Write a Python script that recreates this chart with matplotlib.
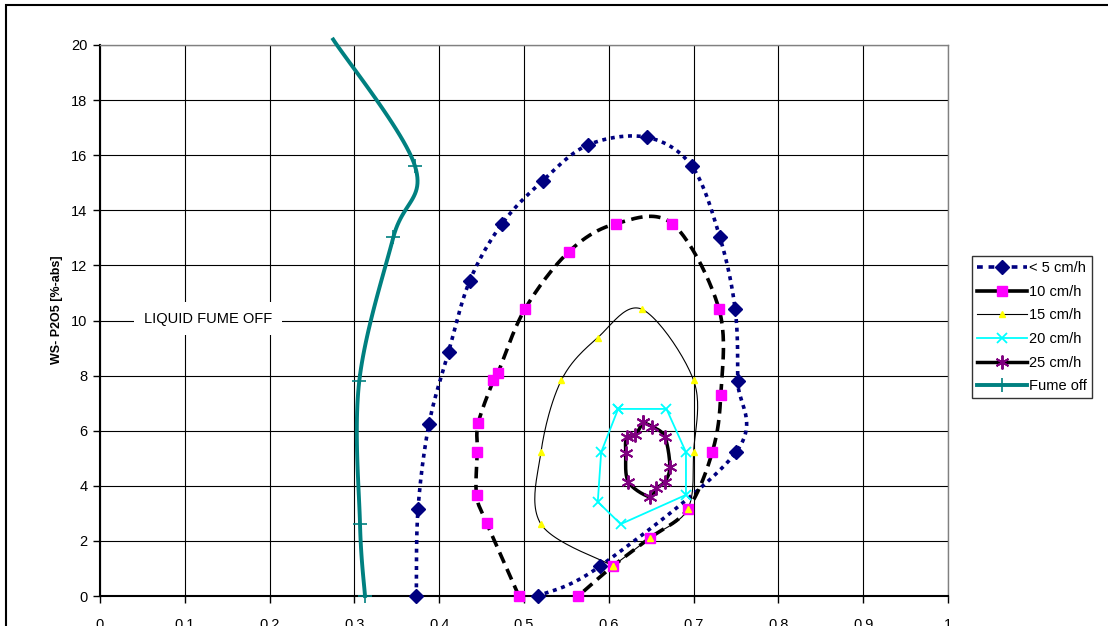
import numpy as np
import matplotlib
matplotlib.use("Agg")
import matplotlib.pyplot as plt
from matplotlib.lines import Line2D
from matplotlib.patches import Rectangle

plt.rcParams['font.family'] = ['Liberation Sans', 'DejaVu Sans']

# ---------------- data ----------------
x_lt5 = [0.373, 0.375, 0.388, 0.411, 0.436, 0.474, 0.522, 0.576, 0.645, 0.698,
         0.731, 0.749, 0.752, 0.750, 0.590, 0.516]
y_lt5 = [0.0, 3.15, 6.25, 8.86, 11.44, 13.51, 15.07, 16.38, 16.65, 15.60,
         13.02, 10.41, 7.81, 5.22, 1.09, 0.0]

x_10 = [0.494, 0.456, 0.444, 0.445, 0.446, 0.464, 0.469, 0.501, 0.553, 0.608,
        0.675, 0.730, 0.732, 0.722, 0.693, 0.649, 0.605, 0.564]
y_10 = [0.0, 2.64, 3.67, 5.22, 6.27, 7.83, 8.08, 10.41, 12.50, 13.51,
        13.51, 10.41, 7.30, 5.22, 3.15, 2.12, 1.09, 0.0]

x_15 = [0.605, 0.520, 0.520, 0.544, 0.587, 0.639, 0.700, 0.700, 0.693, 0.649, 0.605]
y_15 = [1.09, 2.61, 5.22, 7.83, 9.38, 10.41, 7.83, 5.22, 3.15, 2.12, 1.09]

x_20 = [0.611, 0.668, 0.691, 0.691, 0.614, 0.587, 0.591, 0.611]
y_20 = [6.79, 6.79, 5.22, 3.67, 2.61, 3.42, 5.22, 6.79]

x_25 = [0.640, 0.651, 0.666, 0.672, 0.666, 0.656, 0.648, 0.623, 0.620, 0.621, 0.631, 0.640]
y_25 = [6.30, 6.15, 5.78, 4.69, 4.15, 3.91, 3.60, 4.15, 5.18, 5.76, 5.84, 6.30]

x_fume = [0.3125, 0.3066, 0.3058, 0.3459, 0.3715, 0.275]
y_fume = [0.0, 2.62, 7.82, 13.02, 15.60, 20.2]

x_ticks = [0, 0.1, 0.2, 0.3, 0.4, 0.5, 0.6, 0.7, 0.8, 0.9, 1.0]
x_tick_labels = ["0", "0.1", "0.2", "0.3", "0.4", "0.5", "0.6", "0.7", "0.8", "0.9", "1"]
y_ticks = [0, 2, 4, 6, 8, 10, 12, 14, 16, 18, 20]

labels = ["< 5 cm/h", "10 cm/h", "15 cm/h", "20 cm/h", "25 cm/h", "Fume off"]


def smooth(x, y, n=24):
    """Catmull-Rom smoothing (like Excel's smoothed line)."""
    P = np.column_stack([x, y]).astype(float)
    ext = np.vstack([P[0], P, P[-1]])
    out = []
    t = np.linspace(0, 1, n, endpoint=False)[:, None]
    for i in range(1, len(ext) - 2):
        p0, p1, p2, p3 = ext[i - 1], ext[i], ext[i + 1], ext[i + 2]
        seg = 0.5 * ((2 * p1) + (-p0 + p2) * t + (2 * p0 - 5 * p1 + 4 * p2 - p3) * t ** 2
                     + (-p0 + 3 * p1 - 3 * p2 + p3) * t ** 3)
        out.append(seg)
    out.append(P[-1:])
    S = np.vstack(out)
    return S[:, 0], S[:, 1]


W, H = 1108, 626
fig = plt.figure(figsize=(W / 100, H / 100), dpi=100)
ax = fig.add_axes([100 / W, 30 / H, 848 / W, 551 / H])

navy = "#000080"
magenta = "#FF00FF"
yellow = "#FFFF00"
cyan = "#00FFFF"
purple = "#800080"
teal = "#008080"

# < 5 cm/h
sx, sy = smooth(x_lt5, y_lt5)
ax.plot(sx, sy, color=navy, lw=2.6, ls=(0, (1.1, 1.3)), zorder=3)
ax.plot(x_lt5, y_lt5, ls='none', marker='D', ms=7.5, mfc=navy, mec=navy, zorder=4, clip_on=False)

# 10 cm/h
sx, sy = smooth(x_10, y_10)
ax.plot(sx, sy, color='black', lw=2.6, ls=(0, (3.2, 1.8)), zorder=3)
ax.plot(x_10, y_10, ls='none', marker='s', ms=7.5, mfc=magenta, mec=magenta, zorder=4, clip_on=False)

# 15 cm/h
sx, sy = smooth(x_15, y_15)
ax.plot(sx, sy, color='black', lw=0.8, zorder=3)
ax.plot(x_15, y_15, ls='none', marker='^', ms=4.5, mfc=yellow, mec=yellow, zorder=5)

# 20 cm/h (straight)
ax.plot(x_20, y_20, color=cyan, lw=1.3, marker='x', ms=7, mec=cyan, mew=1.3, zorder=4)

# 25 cm/h
sx, sy = smooth(x_25, y_25)
ax.plot(sx, sy, color='black', lw=2.5, zorder=3)
ax.plot(x_25, y_25, ls='none', marker=(6, 2, 0), ms=10, mec=purple, mew=1.4, zorder=4)

# Fume off
sx, sy = smooth(x_fume, y_fume)
ax.plot(sx, sy, color=teal, lw=2.8, zorder=3, clip_on=False)
fx = [a for a, b in zip(x_fume, y_fume) if b <= 20]
fy = [b for b in y_fume if b <= 20]
ax.plot(fx, fy, ls='none', marker='+', ms=10, mec=teal, mew=1.2, zorder=4, clip_on=False)

ax.text(0.1274, 10.07, "LIQUID FUME OFF", fontsize=10.5, ha='center', va='center',
        bbox=dict(facecolor='white', edgecolor='none', pad=7), zorder=2)

ax.set_xlim(0, 1)
ax.set_ylim(0, 20)
ax.set_xticks(x_ticks)
ax.set_xticklabels(x_tick_labels)
ax.set_yticks(y_ticks)
ax.grid(True, color='black', lw=0.8, zorder=1)
ax.set_axisbelow(True)
ax.tick_params(axis='both', direction='out', length=5, width=1, colors='black', labelsize=10.5)
ax.tick_params(axis='x', pad=11)
ax.tick_params(axis='y', pad=4)
for s in ['left', 'bottom']:
    ax.spines[s].set_color('black')
    ax.spines[s].set_linewidth(1.5)
for s in ['top', 'right']:
    ax.spines[s].set_color('#808080')
    ax.spines[s].set_linewidth(1.0)

ax.set_ylabel("WS- P2O5 [%-abs]", fontsize=9, fontweight='bold', va='center')
ax.yaxis.set_label_coords(-0.0507, 0.519)

handles = [
    Line2D([], [], color=navy, lw=2.6, ls=(0, (1.6, 1.6)), marker='D', ms=7.5, mfc=navy, mec=navy),
    Line2D([], [], color='black', lw=2.6, marker='s', ms=7.5, mfc=magenta, mec=magenta),
    Line2D([], [], color='black', lw=0.8, marker='^', ms=4.5, mfc=yellow, mec=yellow),
    Line2D([], [], color=cyan, lw=1.3, marker='x', ms=7, mec=cyan, mew=1.3),
    Line2D([], [], color='black', lw=2.5, marker=(6, 2, 0), ms=10, mec=purple, mew=1.4),
    Line2D([], [], color=teal, lw=2.8, marker='+', ms=10, mec=teal, mew=1.2),
]
leg = fig.legend(handles, labels, loc='upper left', bbox_to_anchor=(972 / W, 1 - 256 / H),
                 fontsize=10.5, frameon=True, fancybox=False, edgecolor='black',
                 handlelength=3.4, handletextpad=0.15, labelspacing=0.66,
                 borderpad=0.35, borderaxespad=0, numpoints=1)
leg.get_frame().set_linewidth(1.0)

# figure border
fig.patches.append(Rectangle((6 / W, -0.1), 1.2, 1 - 5 / H + 0.1, transform=fig.transFigure,
                             fill=False, edgecolor='black', lw=1.5, clip_on=False))

fig.savefig("out.png", dpi=100)
